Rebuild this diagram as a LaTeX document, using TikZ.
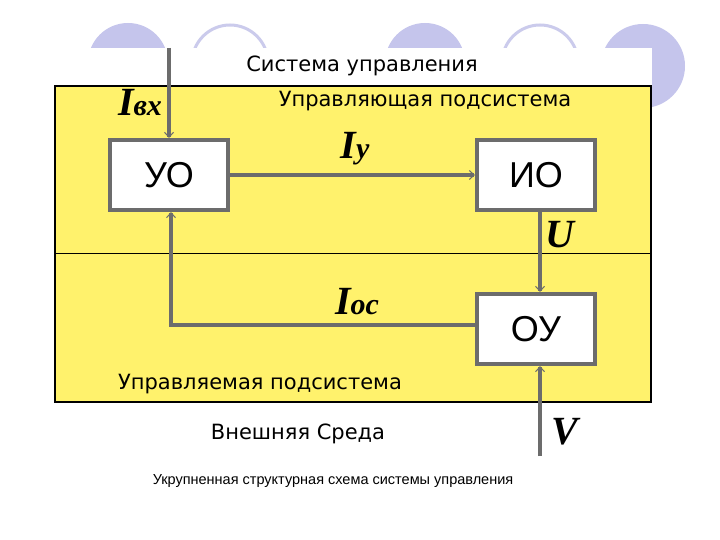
\documentclass[tikz,border=0pt]{standalone}
\usetikzlibrary{arrows.meta}
\usepackage{fontspec}
\setmainfont{Liberation Sans}
\newfontfamily\diag{DejaVu Sans}
\newfontfamily\serifit{Liberation Serif}
\begin{document}
\begin{tikzpicture}[x=1pt,y=-1pt,
  blk/.style={draw=gray!85!black,line width=4pt,fill=white,minimum width=118pt,minimum height=70pt,font=\fontsize{36}{36}\selectfont},
  con/.style={draw=gray!85!black,line width=3.5pt,-{Straight Barb[length=5pt,width=9pt,line width=1pt]}},
  lbl/.style={font=\diag\fontsize{21}{21}\selectfont},
  sym/.style={font=\serifit\bfseries\itshape\fontsize{40}{40}\selectfont},
  filled/.style={fill=blue!18!white!85!gray},
  ring/.style={draw=blue!15!white!85!gray,line width=3pt}]
\useasboundingbox (0,0) rectangle (720,540);
\fill[white] (0,0) rectangle (720,540);
\fill[filled] (128,63) circle (40);
\draw[ring] (230,63) circle (38);
\fill[filled] (425,63) circle (40);
\draw[ring] (540,63) circle (38);
\fill[filled] (643,66) circle (42);
\fill[white] (40,48) rectangle (652,470);
\filldraw[fill=yellow!55!white!95!orange,draw=black,line width=1.2pt] (55,86) rectangle (651,402);
\draw[black,line width=1pt] (55,253) -- (651,253);
\node[blk] (uo) at (169,175) {УО};
\node[blk] (io) at (536,175) {ИО};
\node[blk] (ou) at (536,329) {ОУ};
\coordinate (top) at (169,48);
\coordinate (vin) at (540,456);
\coordinate (bend) at (171,325);
\draw[con] (top) -- (uo.north);
\draw[con] (uo.east) -- (io.west);
\draw[con] (io.south -| vin) -- (ou.north -| vin);
\draw[con] (ou.west |- bend) -- (bend) -- (uo.south -| bend);
\draw[con] (vin) -- (ou.south -| vin);
\node[lbl] (t1) at (362,66) {Система управления};
\node[lbl] (t2) at (425,101) {Управляющая подсистема};
\node[lbl] (t3) at (260,384) {Управляемая подсистема};
\node[lbl] (t4) at (298,434) {Внешняя Среда};
\node[font=\fontsize{14.5}{14.5}\selectfont] (cap) at (333,481) {Укрупненная структурная схема системы управления};
\node[sym] (l1) at (140,103) {I\fontsize{30}{30}\selectfont вх};
\node[sym] (l2) at (355,149) {I\fontsize{30}{30}\selectfont у};
\node[sym] (l3) at (560,235) {U};
\node[sym] (l4) at (357,302) {I\fontsize{30}{30}\selectfont ос};
\node[sym] (l5) at (565,432) {V};
\end{tikzpicture}
\end{document}
